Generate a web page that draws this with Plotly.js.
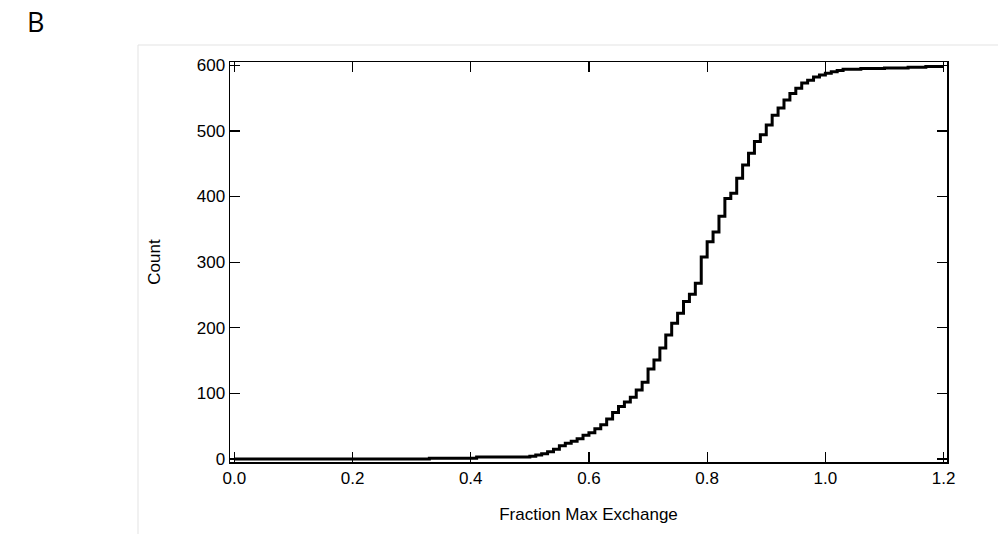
<!DOCTYPE html>
<html>
<head>
<meta charset="utf-8">
<script src="https://cdn.plot.ly/plotly-3.0.1.min.js"></script>
<style>
  html, body { margin: 0; padding: 0; background: #ffffff; }
  #chart { width: 998px; height: 534px; }
</style>
</head>
<body>
<div id="chart"></div>
<script>
// Cumulative count (step curve)
const fractionMaxExchange = [
  0.00, 0.33, 0.41, 0.50, 0.51, 0.52, 0.53, 0.54, 0.55, 0.56,
  0.57, 0.58, 0.59, 0.60, 0.61, 0.62, 0.63, 0.64, 0.65, 0.66,
  0.67, 0.68, 0.69, 0.70, 0.71, 0.72, 0.73, 0.74, 0.75, 0.76,
  0.77, 0.78, 0.79, 0.80, 0.81, 0.82, 0.83, 0.84, 0.85, 0.86,
  0.87, 0.88, 0.89, 0.90, 0.91, 0.92, 0.93, 0.94, 0.95, 0.96,
  0.97, 0.98, 0.99, 1.00, 1.01, 1.02, 1.03, 1.06, 1.10, 1.14,
  1.17, 1.20
];
const cumulativeCount = [
  0, 1, 3, 4, 6, 8, 11, 15, 20, 24,
  27, 31, 36, 40, 46, 52, 61, 71, 80, 87,
  94, 105, 117, 137, 151, 169, 189, 207, 222, 240,
  251, 268, 308, 331, 346, 370, 397, 405, 428, 448,
  466, 484, 494, 509, 524, 535, 547, 557, 565, 573,
  577, 582, 585, 588, 590, 592, 594, 595, 596, 597,
  598, 598
];
const xTickVals = [0.0, 0.2, 0.4, 0.6, 0.8, 1.0, 1.2];
const xTickText = ["0.0", "0.2", "0.4", "0.6", "0.8", "1.0", "1.2"];
const yTickVals = [0, 100, 200, 300, 400, 500, 600];
const panelLabel = "B";
const xTitle = "Fraction Max Exchange";
const yTitle = "Count";

const font = { family: "Liberation Sans, Arial, Helvetica, sans-serif", size: 17, color: "#000000" };

const trace = {
  x: fractionMaxExchange,
  y: cumulativeCount,
  type: "scatter",
  mode: "lines",
  line: { shape: "hv", color: "#000000", width: 3 },
  hoverinfo: "x+y",
  showlegend: false
};

const axisCommon = {
  showgrid: false,
  zeroline: false,
  showline: true,
  linecolor: "#000000",
  linewidth: 1.5,
  mirror: "allticks",
  ticks: "inside",
  ticklen: 10,
  tickwidth: 1.2,
  tickcolor: "#000000",
  tickfont: font
};

const layout = {
  width: 998,
  height: 534,
  margin: { l: 230, r: 51, t: 62, b: 72 },
  paper_bgcolor: "#ffffff",
  plot_bgcolor: "#ffffff",
  font: font,
  xaxis: Object.assign({}, axisCommon, {
    range: [-0.0073, 1.2058],
    tickvals: xTickVals,
    ticktext: xTickText,
    title: { text: xTitle, font: font, standoff: 21 }
  }),
  yaxis: Object.assign({}, axisCommon, {
    range: [-4.6, 605],
    tickvals: yTickVals,
    title: { text: yTitle, font: font, standoff: 32 }
  }),
  shapes: [
    { type: "line", xref: "paper", yref: "paper", x0: -0.1283, x1: 1.08, y0: 1.0425, y1: 1.0425,
      line: { color: "#e3e3e3", width: 1 } },
    { type: "line", xref: "paper", yref: "paper", x0: -0.1283, x1: -0.1283, y0: 1.0425, y1: -0.2,
      line: { color: "#e3e3e3", width: 1 } }
  ],
  annotations: [
    { text: panelLabel, xref: "paper", yref: "paper", x: -0.2706, y: 1.1,
      xanchor: "center", yanchor: "middle", showarrow: false,
      font: { family: "Open Sans, Noto Sans, sans-serif", size: 27, color: "#000000" } }
  ]
};

Plotly.newPlot("chart", [trace], layout, { displayModeBar: false, staticPlot: true });
</script>
</body>
</html>
